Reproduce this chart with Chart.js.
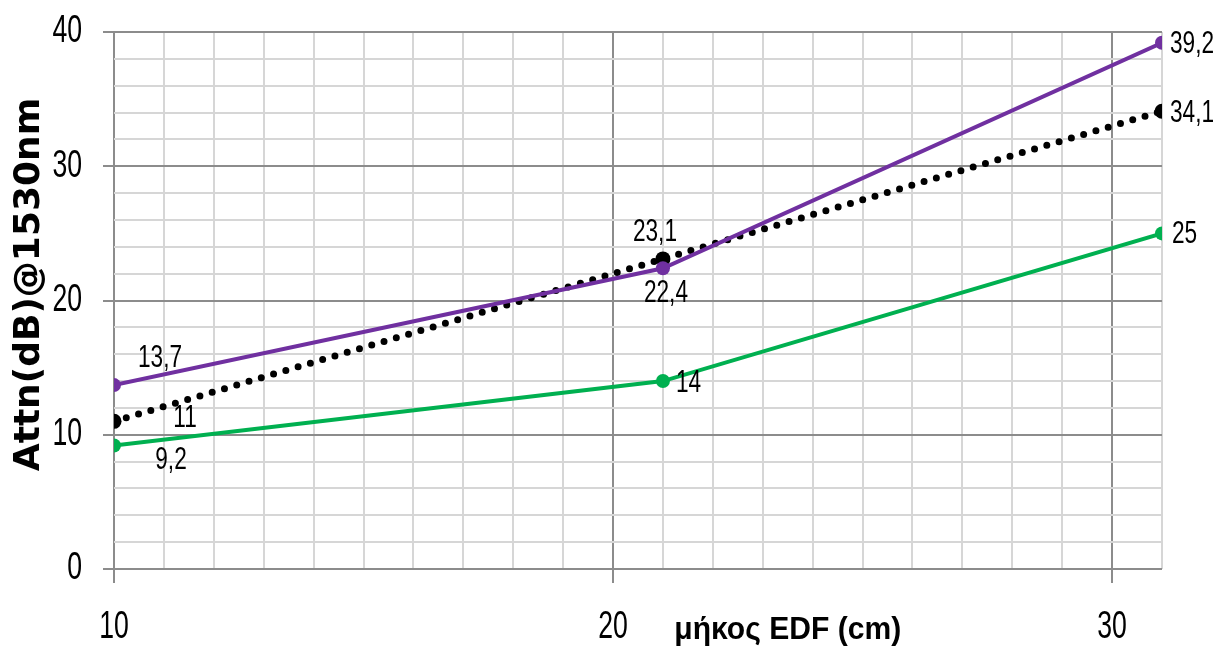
<!DOCTYPE html>
<html>
<head>
<meta charset="utf-8">
<script src="https://cdn.jsdelivr.net/npm/chart.js@4/dist/chart.umd.min.js"></script>
<style>
  html, body { margin: 0; padding: 0; background: #fff; }
  #wrap { width: 1216px; height: 650px; }
</style>
</head>
<body>
<div id="wrap"><canvas id="c" width="1216" height="650"></canvas></div>
<script>
// EDF length (cm) at which attenuation was measured
const lengths = [10, 21, 31];
// Attenuation at 1530 nm (dB) for each series
const seriesPurple = [13.7, 22.4, 39.2];
const seriesBlack = [11, 23.1, 34.1];
const seriesGreen = [9.2, 14, 25];
// Axis labels
const xTickLabels = [10, 20, 30];
const yTickLabels = [0, 10, 20, 30, 40];
const xTitle = 'μήκος EDF (cm)';
const yTitle = 'Attn(dB)@1530nm';

const SANS = '"Liberation Sans", Arial, sans-serif';

// where each value label sits relative to its point: [dx, dy, align]
const labelPlacement = {
  purple: [[46, -27, 'center'], [3, 25, 'center'], [8, 2, 'left']],
  black:  [[71, -3, 'center'], [-8, -26, 'center'], [8, 2, 'left']],
  green:  [[57, 15, 'center'], [13, 2, 'left'], [10, 1, 'left']]
};

const toPts = vals => vals.map((v, i) => ({ x: lengths[i], y: v }));
const fmt = v => String(v).replace('.', ',');

// text drawn with a horizontal squeeze (narrow, tall glyphs)
function squeezedText(ctx, text, x, y, align, sx) {
  ctx.save();
  ctx.translate(x, y);
  ctx.scale(sx, 1);
  ctx.textAlign = align;
  ctx.fillText(text, 0, 0);
  ctx.restore();
}

const valueLabels = {
  id: 'valueLabels',
  afterDatasetsDraw(chart) {
    const ctx = chart.ctx;
    ctx.save();
    ctx.font = '31px ' + SANS;
    ctx.fillStyle = '#000';
    ctx.textBaseline = 'middle';
    chart.data.datasets.forEach((ds, di) => {
      const meta = chart.getDatasetMeta(di);
      const place = labelPlacement[ds.key];
      meta.data.forEach((pt, i) => {
        const [dx, dy, align] = place[i];
        squeezedText(ctx, fmt(ds.data[i].y), pt.x + dx, pt.y + dy, align, 0.73);
      });
    });
    ctx.restore();
  }
};

// tick labels and axis titles
const axisText = {
  id: 'axisText',
  afterDraw(chart) {
    const ctx = chart.ctx;
    const xs = chart.scales.x, ys = chart.scales.y;
    ctx.save();
    ctx.fillStyle = '#000';
    ctx.textBaseline = 'middle';
    ctx.font = '38px ' + SANS;
    xTickLabels.forEach(v => squeezedText(ctx, String(v), xs.getPixelForValue(v), xs.bottom - 22, 'center', 0.7));
    yTickLabels.forEach(v => squeezedText(ctx, String(v), ys.right - 32, ys.getPixelForValue(v), 'right', 0.7));

    ctx.font = 'bold 31px ' + SANS;
    squeezedText(ctx, xTitle, xs.getPixelForValue(23.5), xs.bottom - 20, 'center', 0.97);

    ctx.font = 'bold 36px "DejaVu Sans", sans-serif';
    ctx.save();
    ctx.translate(ys.left + 30, (ys.top + ys.bottom) / 2 - 16);
    ctx.rotate(-Math.PI / 2);
    ctx.textAlign = 'center';
    ctx.fillText(yTitle, 0, 0);
    ctx.restore();
    ctx.restore();
  }
};

const majorGrid = '#8c8c8c';
const minorGrid = '#d6d6d6';
const isMajor = c => c.tick && c.tick.value % 10 === 0;

new Chart(document.getElementById('c'), {
  type: 'line',
  data: {
    datasets: [
      {
        key: 'purple', data: toPts(seriesPurple), order: 0,
        borderColor: '#7030A0', backgroundColor: '#7030A0',
        borderWidth: 4, pointRadius: 7, pointHoverRadius: 7, pointBorderWidth: 0
      },
      {
        key: 'black', data: toPts(seriesBlack), order: 1,
        borderColor: '#000', backgroundColor: '#000',
        borderWidth: 7, borderDash: [0, 12.8], borderCapStyle: 'round',
        pointRadius: 7.5, pointHoverRadius: 7.5, pointBorderWidth: 0
      },
      {
        key: 'green', data: toPts(seriesGreen), order: 2,
        borderColor: '#00B050', backgroundColor: '#00B050',
        borderWidth: 4, pointRadius: 7, pointHoverRadius: 7, pointBorderWidth: 0
      }
    ]
  },
  options: {
    responsive: false,
    animation: false,
    layout: { padding: { top: 32, right: 54, left: 0, bottom: 0 } },
    plugins: { legend: { display: false }, tooltip: { enabled: false } },
    scales: {
      x: {
        type: 'linear', min: 10, max: 31,
        afterFit(s) { s.height = 81; },
        border: { display: false },
        grid: {
          lineWidth: 2,
          color: c => isMajor(c) ? majorGrid : minorGrid,
          tickColor: c => isMajor(c) ? majorGrid : 'transparent',
          tickLength: 14
        },
        ticks: { stepSize: 1, autoSkip: false, display: false }
      },
      y: {
        type: 'linear', min: 0, max: 40,
        afterFit(s) { s.width = 114; },
        border: { display: false },
        grid: {
          lineWidth: 2,
          color: c => isMajor(c) ? majorGrid : minorGrid,
          tickColor: c => isMajor(c) ? majorGrid : 'transparent',
          tickLength: 11
        },
        ticks: { stepSize: 2, autoSkip: false, display: false }
      }
    }
  },
  plugins: [valueLabels, axisText]
});
</script>
</body>
</html>
